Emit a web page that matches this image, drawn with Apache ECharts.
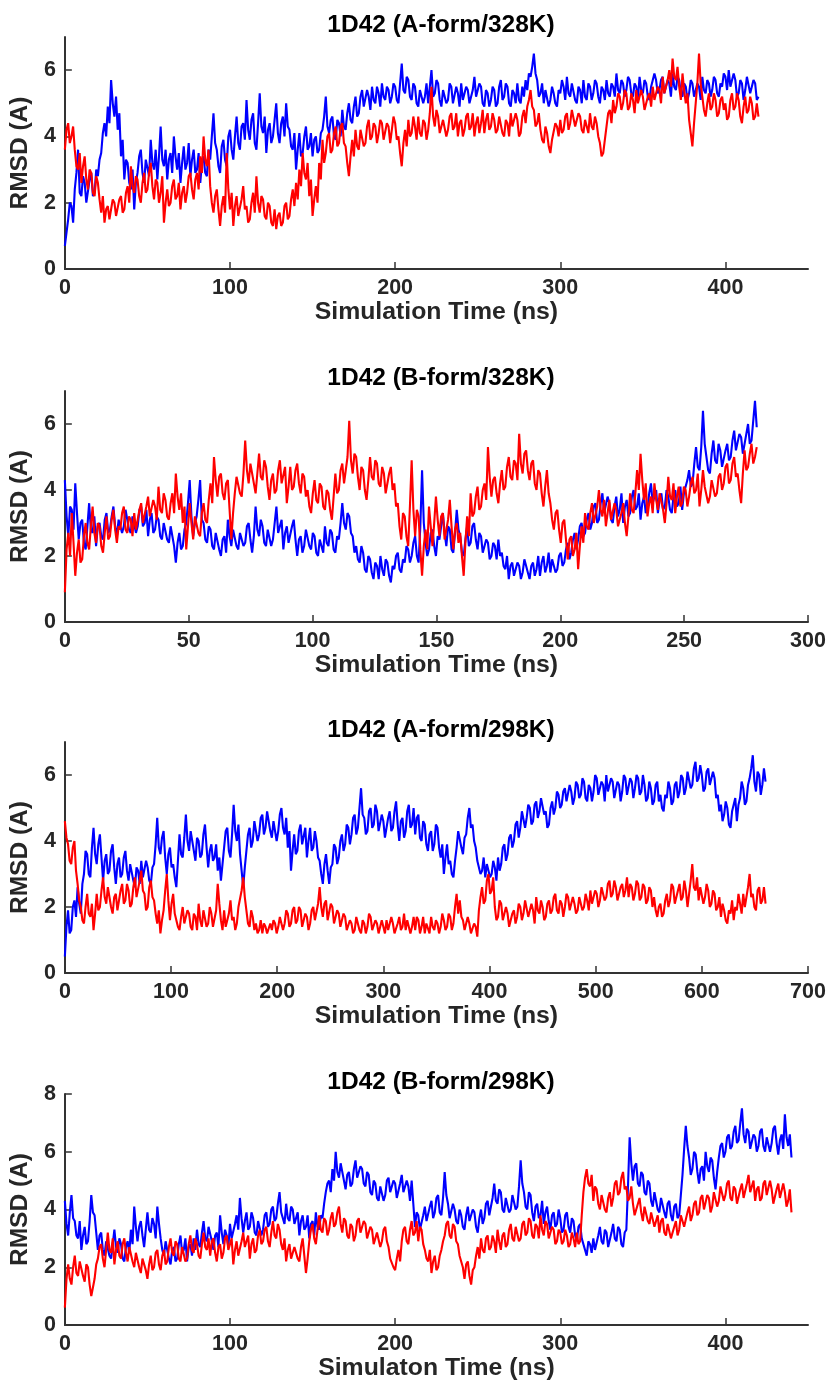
<!DOCTYPE html>
<html>
<head>
<meta charset="utf-8">
<script src="https://cdn.jsdelivr.net/npm/echarts@6/dist/echarts.min.js"></script>
<style>
html,body{margin:0;padding:0;background:#fff;}
#chart{width:832px;height:1384px;}
</style>
</head>
<body>
<div id="chart"></div>
<script>
// ---------- Data (RMSD in Angstrom, one value every DT ns) ----------
const titles = ['1D42 (A-form/328K)', '1D42 (B-form/328K)', '1D42 (A-form/298K)', '1D42 (B-form/298K)'];
const xNames = ['Simulation Time (ns)', 'Simulation Time (ns)', 'Simulation Time (ns)', 'Simulaton Time (ns)'];
const yName = 'RMSD (A)';
const xMax = [450, 300, 700, 450];
const xInterval = [100, 50, 100, 100];
const yMax = [7, 7, 7, 8];
const DT = [1, 0.7, 1.5, 1];

const p1Blue = [
0.7,1.1,1.5,2.0,1.9,1.4,2.4,2.9,3.6,2.3,2.2,2.8,2.6,2.0,2.0,2.7,2.9,2.2,2.3,3.0,
2.8,3.3,3.5,4.1,4.4,4.0,4.9,4.4,5.7,5.0,4.6,5.2,4.2,4.7,3.4,3.9,2.7,3.3,3.2,2.6,
2.4,3.0,1.8,2.6,2.9,3.4,3.6,2.9,2.6,3.3,3.3,2.8,3.9,3.2,3.0,3.6,2.7,3.4,4.3,3.3,
3.1,3.6,2.7,3.3,3.5,2.9,4.0,3.4,3.0,3.5,2.6,3.2,3.7,3.0,3.2,3.8,2.8,3.3,3.6,2.9,
3.0,3.5,2.6,3.2,3.4,2.9,2.8,3.6,3.3,4.0,4.7,3.8,3.6,3.1,2.9,3.7,3.9,3.3,3.1,4.0,
4.2,3.6,3.3,4.0,4.6,3.8,3.6,4.3,4.4,3.9,5.1,4.2,3.9,4.5,4.7,3.8,3.6,4.4,5.3,4.3,
4.1,4.6,3.5,4.2,4.4,3.8,4.0,4.5,5.0,4.1,3.8,4.4,4.6,4.0,5.0,4.3,4.2,3.7,3.6,4.1,
3.0,3.6,4.1,3.4,3.5,4.0,4.3,3.6,3.7,4.1,3.4,3.9,4.0,3.5,3.6,4.1,4.2,4.6,5.2,4.3,
4.1,4.5,4.6,4.0,3.9,4.5,4.4,4.0,4.8,4.3,4.2,4.7,5.0,4.5,4.4,4.9,5.2,4.6,4.7,5.2,
5.4,4.9,4.9,5.4,5.2,4.8,5.5,5.1,5.0,5.5,5.3,4.9,5.6,5.2,5.1,5.5,5.4,5.0,5.2,5.6,
5.5,5.1,5.0,5.6,6.2,5.4,5.3,5.8,5.7,5.2,5.1,5.6,5.5,5.0,4.9,5.4,5.4,5.0,5.2,5.6,
5.0,5.5,6.0,5.2,5.3,5.7,5.6,5.1,4.9,5.4,5.4,5.0,5.1,5.6,5.5,5.0,5.0,5.5,5.3,4.9,
5.6,5.1,5.1,5.5,5.4,5.0,5.0,5.4,5.8,5.2,5.2,5.6,5.5,5.0,4.9,5.4,5.3,4.9,5.1,5.5,
5.4,4.9,5.0,5.5,5.7,5.1,5.2,5.6,5.5,5.0,4.9,5.4,5.3,5.0,5.6,5.1,5.0,5.5,5.2,5.7,
5.4,5.9,5.8,6.1,6.5,5.9,5.7,5.2,5.3,5.6,5.0,5.4,5.4,4.9,5.1,5.5,5.3,5.0,4.9,5.4,
5.3,5.7,5.5,5.1,5.8,5.3,5.2,5.6,5.6,5.1,5.0,5.5,5.4,5.0,5.7,5.2,5.1,5.6,5.5,5.1,
5.3,5.7,5.6,5.2,5.0,5.5,5.4,5.1,5.7,5.3,5.2,5.6,5.5,5.2,5.9,5.4,5.3,5.7,5.6,5.2,
5.4,5.8,5.7,5.3,5.2,5.6,5.5,5.1,5.8,5.4,5.3,5.7,5.6,5.2,5.1,5.5,5.5,5.9,5.7,5.3,
5.4,5.7,5.8,5.3,5.3,5.7,5.6,5.2,5.9,5.5,5.4,5.8,5.7,5.3,5.2,5.6,5.5,5.1,5.3,5.7,
5.6,5.2,5.2,5.6,5.5,5.1,5.8,5.4,5.3,5.7,5.6,5.2,5.4,5.8,5.7,5.3,5.2,5.6,5.5,5.9,
5.8,5.4,6.0,5.5,5.5,5.9,5.7,5.2,5.3,5.7,5.6,5.1,5.4,5.8,5.8,5.3,5.3,5.7,5.6,5.1,
5.2];
const p1Red = [
3.6,4.2,4.4,3.8,4.0,4.3,3.6,3.1,3.0,3.5,2.6,3.1,3.4,2.7,2.4,3.0,2.9,2.3,2.2,2.8,
2.6,2.1,1.7,2.2,1.4,1.8,1.9,1.5,1.5,2.1,2.0,1.6,1.6,2.1,2.2,1.7,1.8,2.3,2.5,2.0,
3.1,2.5,2.3,2.8,2.7,2.2,2.0,2.6,2.9,2.3,2.4,2.9,3.2,2.5,2.1,2.7,2.6,2.0,2.3,2.8,
1.4,2.0,2.4,1.9,2.0,2.5,2.7,2.1,2.2,2.6,1.8,2.3,2.5,2.0,2.3,2.8,2.9,2.4,2.1,2.7,
2.9,2.4,3.4,2.9,4.0,3.3,3.1,3.6,2.5,2.0,1.7,2.2,2.4,1.8,1.3,1.9,2.2,1.7,3.5,2.4,
1.8,2.3,1.3,1.9,2.2,1.6,1.6,2.1,2.5,1.8,1.9,1.4,1.5,2.0,2.3,1.7,2.8,2.0,1.7,2.2,
2.1,1.6,1.5,2.0,1.9,1.4,1.3,1.8,1.2,1.6,1.7,1.3,1.4,1.9,2.0,1.5,1.6,2.1,2.4,1.9,
2.6,2.1,3.0,2.5,3.5,2.9,2.7,3.2,2.2,2.7,1.6,2.1,2.5,2.0,3.2,2.7,3.9,3.2,3.5,4.0,
4.1,3.5,3.6,4.1,4.3,3.7,3.8,4.3,4.4,3.8,3.7,3.2,2.8,3.4,3.9,3.4,4.2,3.7,3.6,4.2,
4.2,3.7,3.8,4.3,4.5,3.9,4.0,4.4,4.3,3.8,4.1,4.5,4.4,3.9,3.9,4.4,4.3,3.8,4.2,4.6,
4.4,3.9,4.0,3.5,3.1,3.8,4.2,3.7,4.5,4.0,4.1,4.6,4.3,3.9,4.6,4.1,4.0,4.5,4.4,3.9,
4.2,4.7,5.5,4.6,4.3,4.8,4.6,4.1,4.1,4.5,4.5,4.0,4.2,4.6,4.7,4.2,4.3,4.7,4.0,4.4,
4.5,4.0,4.2,4.6,4.7,4.2,4.3,4.7,4.0,4.4,4.6,4.1,4.4,4.8,4.1,4.5,4.7,4.2,4.3,4.7,
4.5,4.1,4.2,4.6,4.6,4.1,4.0,4.5,4.4,4.0,4.7,4.3,4.3,4.7,4.5,4.0,4.1,4.6,4.8,4.4,
4.9,5.1,5.4,4.9,4.8,4.3,4.4,4.7,4.2,3.9,3.8,4.3,4.1,3.7,3.5,3.9,3.9,4.4,4.3,4.0,
4.5,4.1,4.2,4.6,4.7,4.2,4.4,4.8,4.8,4.3,4.3,4.7,4.6,4.2,4.1,4.5,4.5,4.1,4.7,4.3,
4.2,4.6,4.4,4.0,3.8,3.4,3.5,3.9,4.3,4.7,4.8,4.4,5.1,4.7,4.9,5.3,5.2,4.8,5.0,5.4,
5.3,4.8,4.9,5.3,5.1,4.7,5.4,5.0,5.0,5.4,5.2,4.8,4.8,5.2,5.3,4.9,5.5,5.1,5.1,5.5,
5.4,5.0,5.8,5.3,5.3,5.7,6.0,5.5,6.35,5.8,5.7,6.1,5.5,5.1,5.9,5.4,5.0,5.3,4.5,4.1,
3.7,4.4,5.0,5.6,6.5,5.6,5.2,4.8,4.6,5.0,5.3,4.8,4.9,5.3,5.1,4.6,4.7,5.1,5.2,4.8,
5.0,4.5,4.6,5.1,5.3,4.8,4.9,5.3,5.1,4.6,4.4,4.9,5.2,4.7,4.8,5.2,5.0,4.5,4.6,5.0,
4.6];

const p2Blue = [
4.3,3.2,2.6,3.5,3.4,2.8,4.2,3.3,2.5,3.0,3.1,2.4,2.2,2.9,3.6,2.8,2.7,3.2,2.3,2.9,
3.0,2.6,2.5,3.1,3.3,2.7,2.8,3.2,3.5,2.9,2.6,3.1,3.1,2.7,2.9,3.4,3.4,2.8,2.7,3.2,
3.2,2.7,2.9,3.4,3.5,2.9,3.0,3.4,2.6,3.1,3.3,2.7,2.8,3.2,3.1,2.6,2.5,3.0,3.0,2.5,
2.4,2.9,2.9,2.3,1.8,2.4,2.7,2.2,2.3,2.8,3.0,3.6,4.3,3.2,2.6,3.0,3.2,3.7,4.3,3.1,
3.0,2.5,2.4,2.9,2.8,2.3,2.2,2.7,2.7,2.2,2.0,2.5,2.6,2.1,3.1,2.6,2.3,2.8,2.8,2.3,
2.2,2.7,2.7,2.3,2.4,2.9,3.0,2.5,2.1,2.6,3.5,2.8,2.6,3.1,2.9,2.4,2.3,2.8,2.8,2.3,
2.5,3.0,3.5,2.7,2.7,3.1,2.2,2.7,2.9,2.4,2.4,2.9,3.1,2.5,2.0,2.5,2.6,2.1,2.3,2.8,
2.8,2.3,2.2,2.7,2.6,2.1,2.0,2.5,2.5,2.1,2.9,2.4,2.3,2.8,2.7,2.2,2.1,2.6,2.5,3.0,
3.6,3.0,2.8,3.3,3.2,2.7,2.6,2.1,2.3,1.9,1.8,2.3,2.1,1.6,1.5,2.0,1.9,1.5,1.3,1.8,
1.7,1.3,2.0,1.6,1.4,1.9,1.8,1.4,1.2,1.7,1.6,2.0,2.1,1.6,1.5,1.9,1.8,2.3,2.2,1.8,
2.0,2.4,2.6,2.0,1.8,2.9,4.6,3.0,2.4,2.0,2.2,2.7,2.8,2.3,2.0,2.6,2.5,2.9,3.3,2.7,
2.3,2.9,2.8,2.2,2.1,2.7,3.4,2.8,2.6,2.1,2.0,2.5,2.9,2.3,2.4,2.9,3.0,2.5,2.2,2.7,
2.6,2.1,2.1,2.5,2.4,1.9,2.0,2.4,2.3,1.9,2.5,2.0,2.1,1.7,1.6,2.0,1.3,1.7,1.8,1.4,
1.4,1.8,1.7,1.3,1.5,1.9,1.9,1.5,1.3,1.7,1.8,1.4,1.6,2.0,1.4,1.8,2.0,1.5,1.7,2.1,
1.5,1.9,1.9,1.5,1.6,2.0,2.1,1.7,1.8,2.2,2.4,1.9,2.1,2.5,2.7,2.2,2.5,2.9,3.0,2.6,
2.7,3.1,3.3,2.8,3.0,3.5,3.6,3.0,3.1,3.6,3.9,3.3,3.3,3.8,3.6,3.1,3.0,3.5,3.8,3.2,
3.4,3.9,3.0,3.5,3.7,3.2,3.3,3.8,4.0,3.4,3.5,3.9,3.1,3.6,3.8,3.3,3.4,3.9,4.2,3.6,
3.6,4.0,3.3,3.7,3.9,3.4,3.5,4.0,3.8,3.4,3.3,3.8,4.0,3.5,3.6,4.1,3.4,3.9,3.9,4.3,
4.6,4.1,4.2,4.8,5.3,4.7,4.6,5.3,6.4,5.4,5.0,4.6,4.5,5.1,5.5,4.9,4.8,5.4,5.2,4.7,
4.7,5.2,5.4,4.9,5.0,5.5,5.8,5.2,5.2,5.7,5.6,5.1,5.1,5.7,6.0,5.4,5.5,6.1,6.7,5.9];
const p2Red = [
0.9,2.2,2.7,2.0,3.3,2.4,1.4,2.1,2.5,1.8,1.9,2.6,3.0,2.4,2.2,2.9,3.5,2.7,2.4,3.0,
2.9,2.3,2.1,2.7,3.2,2.5,2.6,3.1,3.4,2.8,2.4,2.9,2.8,3.3,3.5,2.8,2.7,3.2,3.1,2.6,
3.3,2.8,2.8,3.4,3.6,3.0,3.0,3.5,3.8,3.2,3.2,3.7,3.5,3.1,4.1,3.4,3.3,3.9,3.7,3.2,
3.1,3.6,3.9,3.3,4.5,3.8,3.4,3.9,3.0,3.5,2.2,2.9,3.6,3.0,2.5,3.2,3.2,2.7,2.6,3.3,
3.6,3.1,3.0,3.7,4.2,3.6,5.0,4.3,3.8,4.4,4.5,3.9,3.7,4.2,4.3,3.4,2.5,3.3,3.9,4.4,
4.4,3.9,3.8,4.5,5.5,4.6,4.2,4.8,4.8,4.2,3.9,4.5,5.1,4.4,4.3,4.9,4.7,4.1,3.7,4.3,
4.5,3.9,4.0,4.6,4.9,4.2,4.2,4.7,3.6,4.1,4.7,4.0,4.1,4.6,4.8,4.2,3.9,4.5,4.4,3.8,
4.0,3.5,3.3,3.9,4.3,3.7,3.6,4.2,4.1,3.5,3.4,4.0,3.9,3.4,3.1,3.8,4.5,3.9,4.0,4.6,
4.8,4.2,4.2,5.0,6.1,4.9,4.5,5.1,5.0,4.4,4.0,4.7,4.6,4.0,3.7,4.3,5.0,4.4,4.3,4.9,
4.8,4.2,4.1,4.7,4.5,3.9,3.9,4.5,4.7,4.0,4.2,3.5,3.6,2.9,2.5,3.3,3.2,2.6,2.3,3.5,
4.9,3.4,2.6,3.4,3.2,2.2,1.4,2.3,2.8,2.2,3.5,2.9,2.3,3.0,3.8,3.1,2.6,3.2,3.3,2.5,
2.5,3.1,3.7,2.9,2.2,2.8,3.0,2.4,2.7,2.0,1.4,2.4,3.2,2.6,3.9,3.2,3.3,3.8,4.1,3.4,
3.5,4.0,4.2,3.7,5.3,4.4,3.8,4.3,4.4,3.9,3.6,4.2,4.6,4.0,4.1,4.7,5.0,4.4,4.3,4.9,
4.8,4.3,5.7,4.8,4.5,5.1,5.2,4.6,4.3,4.8,4.9,4.2,4.0,4.6,4.5,3.9,3.5,4.1,4.6,3.9,
3.6,3.1,2.8,3.3,3.4,2.8,2.4,3.0,3.1,2.5,1.9,2.5,2.6,2.0,2.2,2.7,1.6,2.3,2.9,2.4,
3.3,2.9,2.8,3.3,3.6,3.0,3.0,3.5,4.0,3.4,3.2,3.7,2.9,3.3,3.7,3.1,3.1,3.6,3.4,2.9,
2.9,3.3,3.6,3.0,2.6,3.2,3.9,3.4,3.3,3.9,4.6,4.0,5.1,4.3,3.7,4.2,3.2,3.6,3.8,3.3,
4.2,3.7,3.4,3.9,3.9,3.4,3.0,3.6,4.4,3.8,3.7,4.2,3.3,3.8,4.1,3.5,3.6,4.1,4.0,3.5,
3.8,4.2,4.4,3.9,4.0,4.5,3.5,4.0,4.6,4.1,4.1,3.6,3.8,4.3,4.3,3.8,3.9,4.4,4.5,4.0,
4.2,4.7,4.8,4.2,4.3,4.8,5.0,4.4,4.5,4.0,3.6,4.5,5.2,4.6,4.7,5.1,5.4,4.8,5.0,5.3];

const p3Blue = [
0.5,1.4,1.9,1.2,1.3,2.0,2.2,1.7,2.6,2.1,1.8,2.7,3.0,3.7,3.6,3.0,2.9,3.8,4.4,3.6,
3.3,3.9,4.2,3.5,2.8,3.4,3.6,3.0,3.1,3.7,3.9,3.2,2.7,3.3,3.5,2.9,3.0,3.5,3.7,3.1,
2.8,3.3,3.3,2.8,2.6,3.2,3.1,2.7,3.4,2.9,2.9,3.4,3.2,2.8,2.7,3.2,3.3,3.9,4.7,3.8,
3.6,4.1,4.3,3.5,3.0,3.6,3.8,3.2,3.3,2.9,2.6,3.4,4.2,3.6,3.5,4.1,4.8,4.0,3.7,4.3,
4.3,3.7,3.4,4.1,4.0,3.5,3.6,4.2,4.5,3.8,3.2,3.7,3.9,3.4,3.5,3.9,3.1,3.5,2.8,3.3,
3.8,4.3,4.4,3.7,3.5,4.2,5.1,4.3,4.0,4.5,3.6,3.1,2.6,3.2,3.7,4.2,4.4,3.8,4.0,4.6,
4.6,4.0,4.2,4.7,4.8,4.2,4.4,4.9,4.9,4.3,4.1,4.6,4.6,4.0,4.3,4.8,5.0,4.4,4.2,4.7,
3.8,4.3,3.1,3.7,4.2,3.6,3.7,4.3,4.5,3.9,3.9,4.4,3.5,4.0,4.4,3.7,3.8,4.3,4.0,3.5,
3.4,3.0,2.7,3.3,3.6,3.1,2.7,3.2,3.3,3.9,3.8,3.3,3.5,4.0,4.2,3.7,3.9,4.5,4.4,3.9,
4.2,4.7,4.8,4.2,4.4,5.0,5.6,4.8,4.7,4.2,4.3,4.9,5.0,4.4,4.5,5.1,4.9,4.3,4.3,4.8,
4.6,4.1,4.1,4.7,4.9,4.3,4.4,4.9,5.2,4.5,4.0,4.6,4.7,4.1,4.3,4.9,5.1,4.4,4.5,5.0,
4.2,4.7,4.8,4.1,4.0,4.6,4.5,3.9,3.7,4.2,4.3,3.7,3.9,4.5,4.4,3.8,3.5,3.9,3.0,3.5,
3.9,3.3,3.4,3.0,2.9,3.4,3.8,4.3,4.3,3.8,3.6,4.1,4.2,4.7,5.0,4.4,4.5,4.0,3.8,3.4,
3.4,3.0,3.1,3.5,2.9,3.3,3.3,2.9,3.0,3.4,3.2,2.8,3.5,3.1,3.3,3.8,3.9,3.4,3.6,4.1,
4.2,3.8,4.0,4.5,4.6,4.1,4.4,4.9,4.9,4.4,4.7,5.1,5.0,4.5,4.6,5.1,5.2,4.7,4.9,5.3,
5.3,4.8,4.9,4.4,4.5,5.0,5.2,4.8,5.0,5.5,5.4,5.0,5.1,5.5,5.6,5.2,5.2,5.7,5.5,5.1,
5.3,5.8,5.7,5.3,5.4,5.9,5.8,5.3,5.2,5.7,5.6,5.2,5.5,6.0,5.9,5.4,5.4,5.8,5.7,5.2,
6.0,5.5,5.5,5.9,5.8,5.3,5.3,5.8,5.7,5.2,5.5,6.0,5.9,5.4,5.4,5.9,5.8,5.3,5.6,6.0,
5.9,5.4,5.5,6.0,5.7,5.2,5.3,5.8,5.6,5.1,5.2,5.7,5.8,5.2,5.4,5.0,4.9,5.4,5.3,5.8,
5.6,5.1,5.2,5.7,5.8,5.3,5.5,6.0,5.9,5.4,5.6,6.1,6.1,5.6,5.7,6.2,6.4,5.8,5.9,6.3,
6.0,5.5,5.6,6.1,6.2,5.7,5.7,6.1,5.9,5.3,5.4,4.9,5.1,4.6,4.8,5.2,5.0,4.5,4.4,4.9,
4.9,5.3,4.6,5.1,5.3,5.8,5.6,5.1,5.2,5.7,5.9,6.2,6.6,5.8,5.5,6.1,6.0,5.4,5.7,6.2,
5.8];
const p3Red = [
4.6,4.1,3.9,3.4,3.3,3.8,4.0,3.1,2.7,2.2,2.0,1.6,1.5,2.0,2.4,1.8,1.7,2.1,1.3,1.8,
2.4,1.9,2.0,2.5,2.9,2.3,2.1,2.6,2.6,2.0,1.8,2.3,2.4,1.9,1.9,2.5,2.7,2.1,2.2,2.7,
2.5,2.0,2.1,2.6,2.9,2.3,2.3,2.8,3.1,2.5,2.4,1.9,2.0,2.6,2.8,2.3,2.2,1.8,1.5,1.9,
1.2,1.6,1.9,2.5,3.0,2.2,1.6,2.1,2.4,1.8,1.8,1.4,1.3,1.7,2.0,1.5,1.5,1.9,1.8,1.4,
1.3,1.8,1.7,1.3,2.1,1.6,1.4,1.9,1.9,1.4,1.5,2.0,1.8,1.4,1.4,1.9,2.7,2.1,1.6,1.3,
1.9,1.4,1.4,1.8,2.2,1.6,1.7,1.3,1.5,2.0,2.0,2.5,2.9,2.3,1.9,1.5,1.4,1.9,1.7,1.3,
1.5,1.2,1.3,1.6,1.2,1.5,1.4,1.2,1.2,1.5,1.3,1.6,1.5,1.2,1.4,1.7,1.7,1.3,1.5,1.9,
1.8,1.4,1.5,1.9,2.0,1.5,1.6,2.0,1.9,1.4,1.4,1.8,1.7,1.3,1.5,1.9,2.0,1.6,1.6,2.1,
2.6,2.0,1.7,2.1,2.2,1.6,1.6,2.1,2.0,1.5,1.5,1.9,1.8,1.4,1.4,1.8,1.7,1.3,1.3,1.6,
1.5,1.2,1.3,1.7,1.7,1.3,1.2,1.6,1.5,1.2,1.4,1.8,1.7,1.3,1.3,1.6,1.5,1.2,1.2,1.6,
1.4,1.2,1.6,1.3,1.3,1.7,1.5,1.2,1.2,1.5,1.7,1.3,1.4,1.8,1.3,1.6,1.6,1.2,1.4,1.7,
1.3,1.7,1.6,1.2,1.4,1.7,1.2,1.5,1.5,1.2,1.7,1.4,1.3,1.6,1.5,1.2,1.4,1.8,1.6,1.3,
1.4,1.8,1.7,1.3,1.5,2.0,2.4,1.8,2.2,1.7,1.6,1.3,1.3,1.7,1.5,1.2,1.2,1.5,1.4,1.1,
1.9,2.3,2.6,2.1,2.2,2.8,3.0,2.4,2.5,2.9,2.0,1.6,1.7,2.2,2.1,1.6,1.6,2.0,1.8,1.4,
1.4,1.8,1.9,1.5,1.7,2.1,2.0,1.6,1.8,2.2,2.2,1.7,1.7,2.1,1.9,1.5,2.3,1.9,1.8,2.2,
2.0,1.6,1.7,2.1,2.2,1.8,1.9,2.3,2.4,1.9,1.8,2.2,2.1,1.7,2.0,2.4,2.3,1.9,1.9,2.3,
2.1,1.8,1.9,2.3,2.3,1.9,2.0,2.4,2.2,1.9,2.5,2.1,2.1,2.5,2.4,2.0,2.2,2.6,2.6,2.2,
2.3,2.7,2.8,2.3,2.4,2.8,2.6,2.2,2.2,2.6,2.7,2.3,2.5,2.9,2.3,2.7,2.6,2.2,2.4,2.8,
2.7,2.2,2.3,2.7,2.6,2.1,2.2,2.6,2.5,2.0,2.3,1.9,1.7,2.0,2.1,1.7,1.8,2.2,2.4,2.0,
2.2,2.7,2.6,2.1,2.1,2.5,2.7,2.2,2.3,2.8,2.5,2.0,2.4,2.8,3.3,2.6,2.5,2.9,2.2,2.6,
2.6,2.1,2.3,2.7,2.5,2.0,2.1,2.5,2.4,1.9,2.0,2.3,1.7,2.1,1.9,1.6,1.5,1.9,1.8,2.2,
1.6,2.0,1.9,2.4,2.1,1.8,2.4,2.0,2.0,2.6,3.0,2.3,2.4,2.0,1.9,2.5,2.6,2.1,2.2,2.6,
2.1];

const p4Blue = [
4.3,3.5,3.1,3.9,4.5,3.7,3.6,3.1,3.0,3.6,2.6,3.1,3.4,2.8,2.9,3.6,4.5,3.9,3.8,3.2,
2.6,3.1,3.2,2.6,2.4,2.9,2.9,2.4,2.3,2.8,3.3,2.7,2.5,3.0,2.8,2.3,2.2,2.7,2.9,2.5,
3.3,2.8,4.1,3.4,2.9,3.4,3.6,3.1,2.7,3.3,3.9,3.3,3.2,3.7,3.5,3.0,4.1,3.5,3.0,2.6,
2.4,2.9,2.9,2.3,2.1,2.6,2.7,2.2,2.3,2.8,3.1,2.5,2.6,3.0,2.2,2.7,2.8,2.4,3.0,2.6,
3.3,2.8,2.7,3.2,3.6,3.0,2.9,3.4,3.4,2.9,2.6,3.1,3.2,2.7,3.8,3.2,2.8,3.3,3.1,2.7,
3.5,3.0,3.0,3.5,3.8,3.3,4.4,3.7,3.2,3.6,3.9,3.3,3.4,3.9,3.7,3.2,3.1,3.6,3.6,3.1,
3.3,3.8,3.9,3.4,3.5,4.0,4.1,3.6,3.7,4.2,4.6,3.9,3.9,3.5,4.2,3.7,3.6,4.1,4.0,3.5,
3.5,3.9,3.1,3.6,3.8,3.3,3.4,3.8,3.0,3.5,3.6,3.1,3.9,3.4,3.3,3.8,3.7,4.2,4.6,4.9,
5.0,4.6,5.4,5.0,6.0,5.3,5.1,5.6,5.6,5.0,4.7,5.2,5.3,4.8,4.9,5.4,5.7,5.1,5.1,5.5,
5.4,4.9,4.8,5.3,5.2,4.6,4.5,5.0,4.9,4.4,4.3,4.8,4.8,4.3,4.5,5.0,5.1,4.6,4.6,5.0,
4.9,4.4,4.4,4.9,5.2,4.6,4.6,5.0,4.8,4.3,5.0,4.2,3.4,3.9,3.8,3.3,3.3,3.8,4.1,3.6,
3.6,4.1,4.3,3.7,3.9,4.4,4.5,3.9,3.8,4.4,5.3,4.5,4.2,3.7,3.7,4.2,4.0,3.6,3.5,4.0,
3.8,3.4,3.3,3.8,4.1,3.6,3.6,4.0,3.9,3.4,3.2,3.7,4.0,3.5,3.7,4.2,4.3,3.8,3.8,4.4,
4.9,4.3,4.2,4.7,4.6,4.0,3.9,4.4,4.4,3.9,4.0,4.5,4.5,4.0,4.1,4.8,5.7,4.9,4.6,4.1,
4.0,4.6,4.5,3.9,3.6,4.1,4.2,3.7,3.8,4.3,3.5,3.9,4.1,3.6,3.3,3.8,3.9,3.4,3.5,4.0,
3.7,3.2,3.3,3.8,3.9,3.4,3.2,3.7,3.6,3.1,2.9,3.4,3.5,3.0,3.0,2.6,2.4,2.9,2.8,2.5,
3.0,2.6,2.6,3.1,3.4,2.9,2.8,3.3,3.2,2.7,2.7,3.2,3.5,3.0,2.9,3.4,3.3,2.8,2.7,3.2,
3.3,4.8,6.5,5.6,5.0,5.5,5.6,4.9,4.8,5.3,5.2,4.6,4.5,5.0,4.9,4.3,4.1,4.6,4.6,4.0,
3.9,4.4,4.4,3.9,3.7,4.2,4.3,3.8,3.6,4.1,4.2,3.7,3.8,4.5,5.2,6.1,6.9,6.2,5.8,5.2,
5.4,6.0,5.9,5.3,4.9,5.4,5.5,5.0,6.0,5.5,5.3,5.8,5.7,5.1,4.7,5.3,5.8,6.2,6.3,5.8,
6.0,6.5,6.6,6.1,6.2,6.7,6.9,6.3,6.4,7.0,7.5,6.6,6.3,6.8,6.7,6.1,6.1,6.6,6.5,6.0,
6.2,6.7,6.8,6.2,6.0,6.5,6.5,6.0,6.3,6.8,6.9,6.3,5.9,6.4,6.6,6.1,7.3,6.5,6.2,6.6,
5.8];
const p4Red = [
0.6,1.6,2.1,1.6,1.4,2.0,2.4,1.8,1.7,2.2,2.2,1.7,1.5,2.1,2.0,1.4,1.0,1.3,1.6,2.1,
2.3,2.7,2.8,2.3,2.0,2.6,3.2,2.6,2.5,3.0,2.1,2.6,2.9,2.4,2.3,2.8,3.0,2.5,2.2,2.7,
2.7,2.2,2.0,2.5,2.5,2.0,1.8,2.3,2.3,1.9,1.6,2.1,2.4,1.9,2.0,2.5,2.6,2.1,1.9,2.4,
2.6,2.1,2.2,2.7,3.0,2.5,2.4,2.9,2.8,2.3,2.2,2.7,2.7,2.2,2.3,2.8,3.1,2.6,2.5,3.0,
2.8,2.4,2.3,2.8,3.2,2.7,2.6,3.0,2.4,2.9,3.0,2.5,2.2,2.7,2.8,2.3,2.5,3.0,3.1,2.6,
2.6,3.0,2.1,2.6,2.9,2.4,2.4,2.9,3.2,2.7,2.7,3.1,2.3,2.8,3.0,2.5,2.6,3.1,3.3,2.8,
2.9,3.3,3.4,2.9,2.7,3.2,3.6,3.1,3.0,3.5,3.3,2.8,2.6,3.0,2.2,2.6,2.8,2.3,2.3,2.7,
2.7,2.3,2.2,2.7,3.0,2.4,1.8,2.3,2.9,3.3,3.5,3.0,2.8,3.3,3.8,3.3,3.2,3.7,3.6,3.1,
3.3,3.7,3.9,3.4,3.5,3.9,4.1,3.5,3.2,3.7,3.6,3.1,3.0,3.5,3.4,2.9,3.1,3.6,3.7,3.2,
3.2,3.6,3.5,3.0,3.0,3.4,3.3,2.8,2.8,3.2,3.2,2.7,2.9,3.3,3.4,2.9,2.7,2.3,2.3,2.0,
1.9,2.3,2.6,2.2,2.9,3.3,3.4,2.9,2.8,3.3,3.6,3.1,3.2,3.6,2.9,3.4,3.3,2.8,2.6,2.3,
2.2,2.6,1.8,2.2,2.4,1.9,2.0,2.4,2.6,2.9,3.1,3.5,3.6,3.1,3.0,3.5,3.4,2.9,2.8,2.4,
2.4,2.0,1.6,2.1,2.2,1.7,1.4,1.9,2.0,2.4,2.7,2.3,3.0,2.6,2.5,3.0,3.1,2.6,2.7,3.1,
2.9,2.5,3.3,2.9,2.6,3.1,3.2,2.7,2.8,3.3,3.5,3.0,2.9,3.4,3.4,2.9,3.0,3.5,3.6,3.1,
3.2,3.7,3.6,3.1,3.0,3.5,3.4,3.0,3.8,3.3,3.1,3.6,3.5,3.0,3.0,3.4,3.3,2.8,2.9,3.3,
3.2,2.8,2.9,3.3,3.1,2.7,2.8,3.2,3.0,2.7,3.2,2.8,2.9,3.8,4.6,5.1,5.4,4.9,4.8,5.2,
4.3,4.8,4.7,4.2,4.0,4.5,4.5,4.0,3.9,4.4,4.6,4.1,4.4,4.9,5.0,4.5,4.6,5.1,5.3,4.7,
4.8,4.3,4.4,4.8,4.2,3.8,3.8,4.2,4.4,3.9,3.6,4.1,4.1,3.6,3.5,3.9,3.9,3.4,3.4,3.8,
3.2,3.6,3.7,3.2,3.1,3.5,3.5,3.0,3.0,3.4,3.6,3.1,3.3,3.8,3.8,3.4,3.4,3.9,4.1,3.6,
3.8,4.2,4.3,3.8,3.9,4.4,4.5,4.0,4.0,4.5,4.4,3.9,4.1,4.6,4.6,4.1,4.3,4.8,4.8,4.3,
4.5,4.9,5.0,4.4,4.3,4.8,4.7,4.2,4.2,4.7,4.9,4.4,4.4,4.9,5.2,4.6,4.6,5.0,4.3,4.7,
4.8,4.3,4.4,4.9,5.0,4.5,4.5,5.0,4.7,4.2,4.2,4.7,4.9,4.4,4.4,4.9,4.6,4.1,4.3,4.7,
3.9];

const blueSeries = [p1Blue, p2Blue, p3Blue, p4Blue];
const redSeries = [p1Red, p2Red, p3Red, p4Red];

// ---------- Layout ----------
const gridTops = [37, 391, 742, 1094];
const gridHeights = [232, 231, 231, 231];
const titleTops = [8, 361, 713, 1065];
const AXIS_COLOR = '#333333';
const TEXT_COLOR = '#262626';
const FONT = 'Liberation Sans, Arial, Helvetica, sans-serif';

function pairs(vals, dt) { return vals.map((v, i) => [Math.round(i * dt * 100) / 100, v]); }

const chart = echarts.init(document.getElementById('chart'), null, { renderer: 'canvas' });
const option = {
  animation: false,
  backgroundColor: '#ffffff',
  title: titles.map((t, i) => ({
    text: t, left: 436, top: titleTops[i], textAlign: 'center',
    textStyle: { fontFamily: FONT, fontWeight: 'bold', fontSize: 24.5, color: '#000000' }
  })),
  grid: gridTops.map((top, i) => ({ left: 63, right: 24, top: top, height: gridHeights[i], containLabel: false })),
  xAxis: xMax.map((mx, i) => ({
    type: 'value', gridIndex: i, min: 0, max: mx, interval: xInterval[i],
    name: xNames[i], nameLocation: 'middle', nameGap: 31,
    nameTextStyle: { fontFamily: FONT, fontWeight: 'bold', fontSize: 24.8, color: TEXT_COLOR },
    axisLine: { show: true, onZero: false, lineStyle: { color: AXIS_COLOR, width: 2 } },
    axisTick: { show: true, inside: true, length: 7, lineStyle: { color: AXIS_COLOR, width: 1.5 } },
    axisLabel: { margin: 8, fontFamily: FONT, fontWeight: 'bold', fontSize: 21.5, color: TEXT_COLOR,
                 showMaxLabel: mx % xInterval[i] === 0 },
    splitLine: { show: false }
  })),
  yAxis: yMax.map((mx, i) => ({
    type: 'value', gridIndex: i, min: 0, max: mx, interval: 2,
    name: yName, nameLocation: 'middle', nameGap: 26,
    nameTextStyle: { fontFamily: FONT, fontWeight: 'bold', fontSize: 24.5, color: TEXT_COLOR },
    axisLine: { show: true, lineStyle: { color: AXIS_COLOR, width: 2 } },
    axisTick: { show: true, inside: true, length: 7, lineStyle: { color: AXIS_COLOR, width: 1.5 } },
    axisLabel: { margin: 9, fontFamily: FONT, fontWeight: 'bold', fontSize: 21.5, color: TEXT_COLOR,
                 showMaxLabel: mx % 2 === 0 },
    splitLine: { show: false }
  })),
  series: []
};
for (let i = 0; i < 4; i++) {
  option.series.push({
    type: 'line', xAxisIndex: i, yAxisIndex: i, data: pairs(blueSeries[i], DT[i]),
    showSymbol: false, symbol: 'none', sampling: null, lineStyle: { color: '#0000ff', width: 2.1 }, z: 2
  });
  option.series.push({
    type: 'line', xAxisIndex: i, yAxisIndex: i, data: pairs(redSeries[i], DT[i]),
    showSymbol: false, symbol: 'none', sampling: null, lineStyle: { color: '#ff0000', width: 2.1 }, z: 3
  });
}
chart.setOption(option);
</script>
</body>
</html>
